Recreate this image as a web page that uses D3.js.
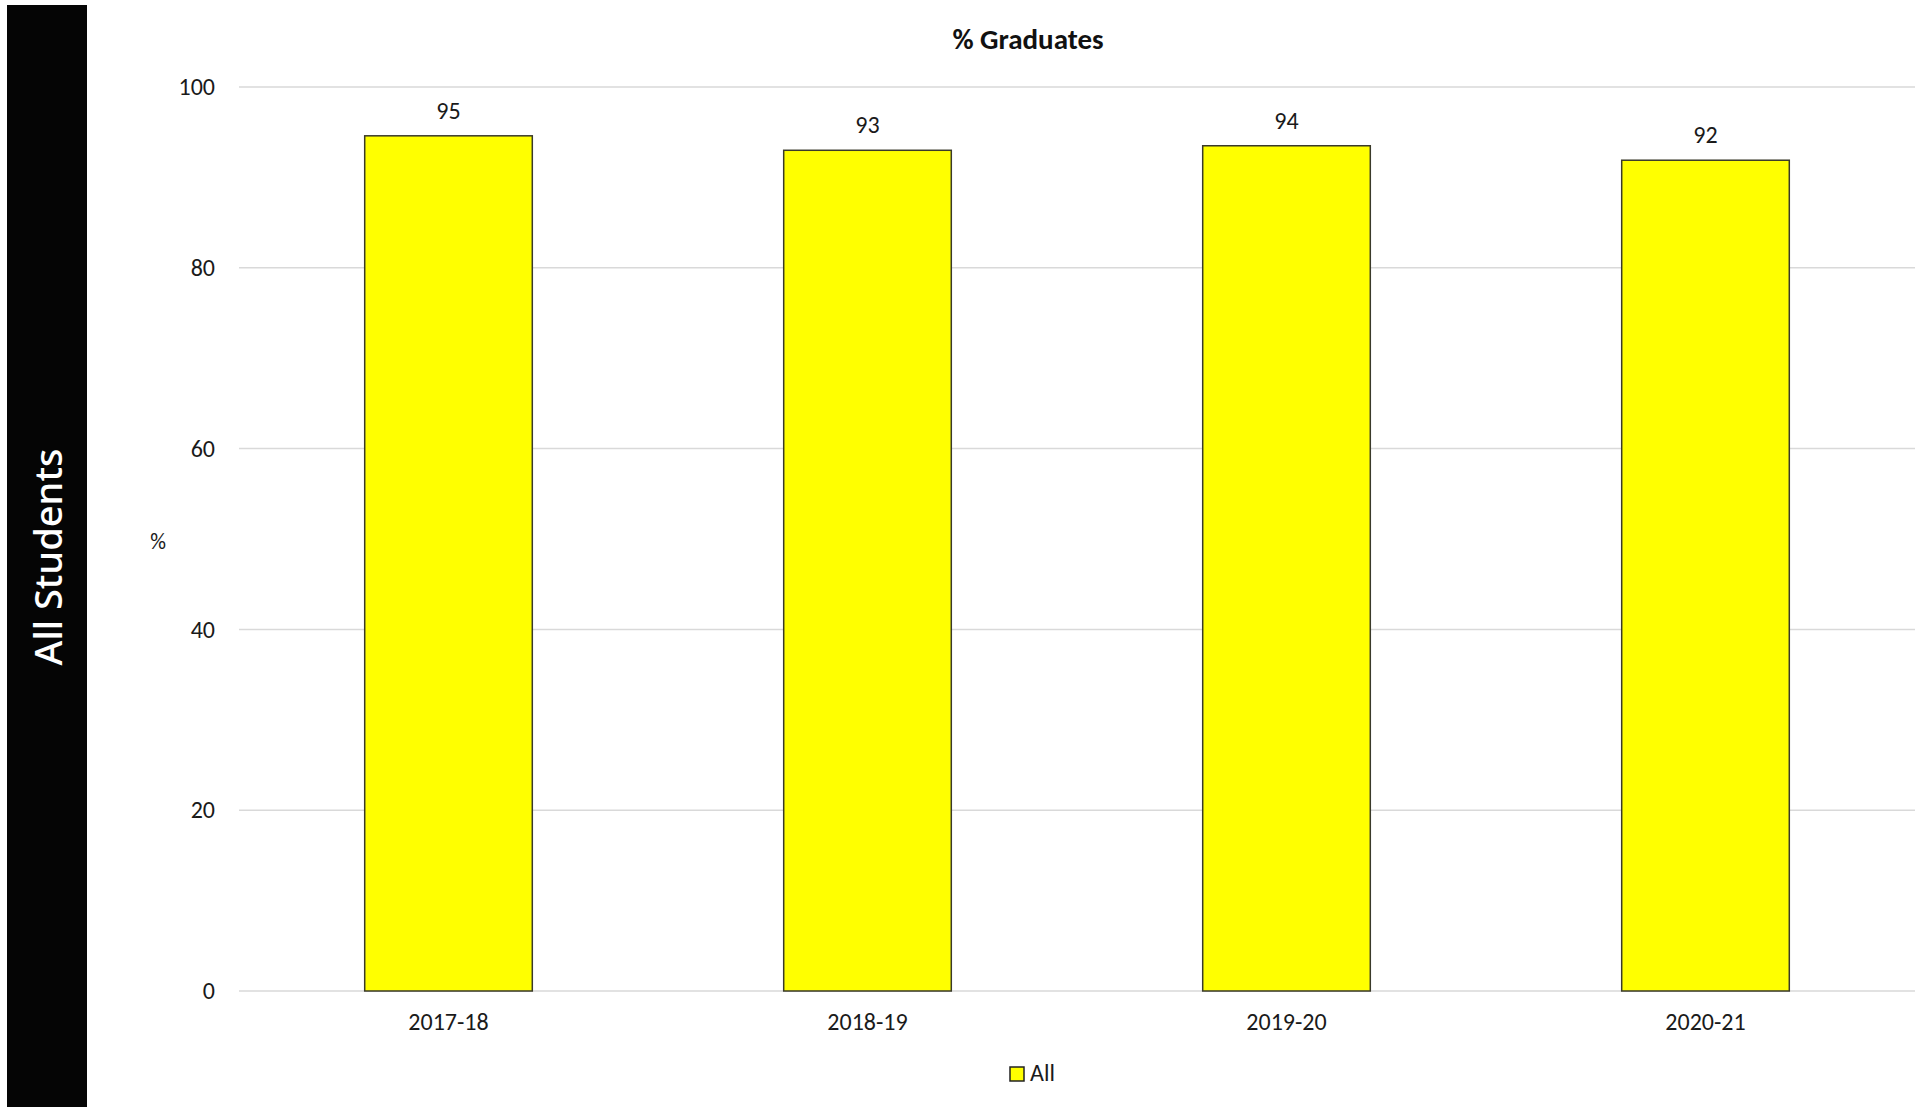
<!DOCTYPE html>
<html>
<head>
<meta charset="utf-8">
<script src="https://cdn.jsdelivr.net/npm/d3@7"></script>
<style>
  body { margin: 0; background: #fff; }
  svg { display: block; font-family: Carlito, Calibri, Lato, sans-serif; }
</style>
</head>
<body>
<div id="graph"></div>
<script>
// chart data
const years = ['2017-18', '2018-19', '2019-20', '2020-21']
const values = [94.6, 93.0, 93.5, 91.9]
const labels = ['95', '93', '94', '92']
const yTicks = [0, 20, 40, 60, 80, 100]
const seriesName = 'All'

const total_width = 1925
const total_height = 1107
const margins = { top: 87, left: 239, right: 10, bottom: 116 }
const width = total_width - margins.left - margins.right
const height = total_height - margins.top - margins.bottom

const svg = d3.select('#graph').append('svg')
  .attr('width', total_width)
  .attr('height', total_height)

// black side panel
svg.append('rect')
  .attr('x', 7).attr('y', 5)
  .attr('width', 80).attr('height', total_height - 5)
  .attr('fill', '#050505')

svg.append('text')
  .attr('transform', 'translate(62, 557) rotate(-90)')
  .attr('text-anchor', 'middle')
  .attr('fill', '#fff')
  .style('font-family', "'Noto Sans', sans-serif")
  .style('font-weight', 500)
  .style('font-size', '38px')
  .text('All Students')

const g = svg.append('g')
  .attr('transform', `translate(${margins.left}, ${margins.top})`)

const x = d3.scaleBand().domain(years).range([0, width]).paddingInner(0.6).paddingOuter(0.3)
const y = d3.scaleLinear().domain([0, 100]).range([height, 0])

// gridlines
g.append('g')
  .selectAll('line')
  .data(yTicks)
  .enter()
  .append('line')
  .attr('x1', 0).attr('x2', width)
  .attr('y1', d => y(d)).attr('y2', d => y(d))
  .attr('stroke', '#d9d9d9')
  .attr('stroke-width', 1.5)

// y axis labels
const yAxis = g.append('g')
  .call(d3.axisLeft(y).tickValues(yTicks).tickSize(0).tickPadding(24))
yAxis.select('.domain').remove()
yAxis.selectAll('text')
  .style('font-size', '24px')
  .style('font-family', 'Carlito, Calibri, Lato, sans-serif')
  .attr('fill', '#1a1a1a')

// x axis labels
const xAxis = g.append('g')
  .attr('transform', `translate(0, ${height})`)
  .call(d3.axisBottom(x).tickSize(0).tickPadding(22))
xAxis.select('.domain').remove()
xAxis.selectAll('text')
  .style('font-size', '24px')
  .style('font-family', 'Carlito, Calibri, Lato, sans-serif')
  .attr('fill', '#1a1a1a')

// bars
g.append('g')
  .selectAll('rect')
  .data(values)
  .enter()
  .append('rect')
  .attr('x', (d, i) => x(years[i]))
  .attr('y', d => y(d))
  .attr('width', x.bandwidth())
  .attr('height', d => height - y(d))
  .attr('fill', '#ffff00')
  .attr('stroke', '#3a3a2a')
  .attr('stroke-width', 1.5)

// value labels
g.append('g')
  .selectAll('text')
  .data(values)
  .enter()
  .append('text')
  .attr('x', (d, i) => x(years[i]) + x.bandwidth() / 2)
  .attr('y', d => y(d) - 17)
  .attr('text-anchor', 'middle')
  .style('font-size', '24px')
  .attr('fill', '#1a1a1a')
  .text((d, i) => labels[i])

// title
svg.append('text')
  .attr('x', 1028).attr('y', 49)
  .attr('text-anchor', 'middle')
  .style('font-size', '29px')
  .style('font-weight', 'bold')
  .attr('fill', '#111')
  .text('% Graduates')

// y axis title
svg.append('text')
  .attr('x', 158).attr('y', 549)
  .attr('text-anchor', 'middle')
  .style('font-size', '22px')
  .attr('fill', '#1a1a1a')
  .text('%')

// legend
const legend = svg.append('g').attr('transform', 'translate(1010, 1067)')
legend.append('rect')
  .attr('width', 14).attr('height', 14)
  .attr('fill', '#ffff00')
  .attr('stroke', '#222')
  .attr('stroke-width', 1.5)
legend.append('text')
  .attr('x', 20).attr('y', 14)
  .style('font-size', '24px')
  .attr('fill', '#1a1a1a')
  .text(seriesName)
</script>
</body>
</html>
